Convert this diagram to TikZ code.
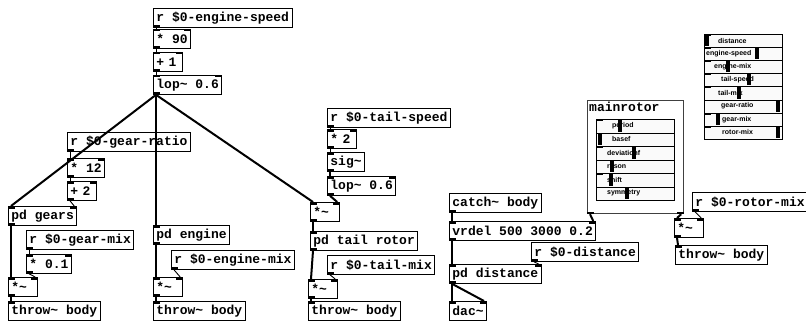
\documentclass[tikz,border=0pt]{standalone}
\usepackage{fontspec}
\newfontfamily\pdmono{Liberation Mono}
\newfontfamily\pdsans{Liberation Sans}
\newcommand{\pdfont}{\pdmono\bfseries\fontsize{13}{15}\selectfont}
\newcommand{\lblfont}{\pdsans\bfseries\fontsize{7}{8}\selectfont}
\newcommand{\tld}{\textasciitilde}
% inlets and outlets of a box
\newcommand{\inL}[1]{\fill (#1.north west) rectangle ++(7,2.5);}
\newcommand{\inR}[1]{\fill (#1.north east) rectangle ++(-7,2.5);}
\newcommand{\outL}[1]{\fill (#1.south west) rectangle ++(7,-2.5);}
\newcommand{\outR}[1]{\fill (#1.south east) rectangle ++(-7,-2.5);}

\begin{document}
\begin{tikzpicture}[x=1pt, y=-1pt,
  obj/.style={draw, line width=0.8pt, anchor=north west, minimum height=19pt,
              inner xsep=3pt, inner ysep=0pt, font=\pdfont, align=left},
  short/.style={text width=23.4pt},
  gop/.style={draw=black!75, line width=1.2pt, anchor=north west,
              minimum width=96pt, minimum height=113pt, inner sep=0pt},
  slider/.style={draw, line width=0.7pt, fill=gray!4, anchor=north west,
                 minimum width=78pt, inner sep=0pt},
  lbl/.style={anchor=west, inner sep=0pt, font=\lblfont},
  knob/.style={line width=3.2pt},
  ctl/.style={line width=0.9pt},
  sig/.style={line width=2pt}
]
\useasboundingbox (0,0) rectangle (806,321);
\fill[white] (0,0) rectangle (806,321);

% engine chain
\node[obj] (espeed) at (153,8) {r \$0-engine-speed};
\node[obj] (emul90) at (153,29) {* 90};
\node[obj, short] (eadd) at (153,52) {+ 1};
\node[obj] (elop) at (153,75) {lop\tld{} 0.6};
\node[obj] (engine) at (153,225) {pd engine};
\node[obj] (emix) at (171,250) {r \$0-engine-mix};
\node[obj, short] (evca) at (153,277) {*\tld};
\node[obj] (ethrow) at (153,301) {throw\tld{} body};

% gears
\node[obj] (gratio) at (67,132) {r \$0-gear-ratio};
\node[obj] (gmul12) at (67,158) {* 12};
\node[obj, short] (gadd) at (67,181) {+ 2};
\node[obj] (gears) at (8,206) {pd gears};
\node[obj] (gmix) at (26,230) {r \$0-gear-mix};
\node[obj] (gmul01) at (26,254) {* 0.1};
\node[obj, short] (gvca) at (8,277) {*\tld};
\node[obj] (gthrow) at (8,301) {throw\tld{} body};

% tail rotor
\node[obj] (tspeed) at (327,108) {r \$0-tail-speed};
\node[obj, short] (tmul2) at (327,129) {* 2};
\node[obj] (tsig) at (327,152) {sig\tld};
\node[obj] (tlop) at (327,176) {lop\tld{} 0.6};
\node[obj, short] (tmod) at (310,202) {*\tld};
\node[obj] (tail) at (310,231) {pd tail rotor};
\node[obj] (tmix) at (327,255) {r \$0-tail-mix};
\node[obj, short] (tvca) at (308,279) {*\tld};
\node[obj] (tthrow) at (308,301) {throw\tld{} body};

% output
\node[obj] (catch) at (449,193) {catch\tld{} body};
\node[obj] (vrdel) at (449,221) {vrdel 500 3000 0.2};
\node[obj] (dist) at (531,242) {r \$0-distance};
\node[obj] (pdist) at (449,264) {pd distance};
\node[obj] (dac) at (449,301) {dac\tld};

% main rotor
\node[gop] (rotor) at (587,100) {};
\node[anchor=north west, font=\pdfont, inner sep=2pt] (rtitle) at (rotor.north west) {mainrotor};
\node[obj] (rmix) at (692,192) {r \$0-rotor-mix};
\node[obj, short] (rvca) at (674,218) {*\tld};
\node[obj] (rthrow) at (675,245) {throw\tld{} body};

% sliders inside mainrotor
\foreach \lab/\lx/\kx [count=\i from 0] in {period/612/620, basef/612/600,
    deviationf/607/634, reson/607/612, shift/607/611, symmetry/607/627} {
  \pgfmathsetmacro\ty{119+13.5*\i}
  \node[slider, minimum height=13.5pt] (ms\i) at (596,\ty) {};
  \node[lbl] (ml\i) at (\lx,\ty+6.75) {\lab};
  \draw[knob] (\kx,\ty+1) -- (\kx,\ty+12.5);
  \fill (ms\i.north west) rectangle ++(7,1.8);
}

% sliders top right
\foreach \lab/\lx/\kx [count=\i from 0] in {distance/718/707,
    engine-speed/706/757, engine-mix/714/728, tail-speed/721/749,
    tail-mix/718/739, gear-ratio/721/778, gear-mix/722/718, rotor-mix/722/778} {
  \pgfmathsetmacro\ty{34+13.125*\i}
  \node[slider, minimum height=13.125pt] (ts\i) at (704,\ty) {};
  \node[lbl] (tl\i) at (\lx,\ty+6.56) {\lab};
  \draw[knob] (\kx,\ty+1) -- (\kx,\ty+12.1);
  \fill (ts\i.north west) rectangle ++(7,1.8);
}

% iolets
\foreach \n in {emul90, eadd, elop, gmul12, gadd, gears, gmul01, gvca, evca,
    tmul2, tlop, tmod, tvca, vrdel, pdist, rvca} {\inL{\n}\inR{\n}\outL{\n}}
\foreach \n in {engine, tsig, tail} {\inL{\n}\outL{\n}}
\foreach \n in {espeed, gratio, gmix, emix, tspeed, tmix, catch, dist, rmix} {\outL{\n}}
\foreach \n in {gthrow, ethrow, tthrow, rthrow} {\inL{\n}}
\inL{dac}\inR{dac}
\outL{rotor}\outR{rotor}

% connections
\draw[ctl] ([xshift=3pt]espeed.south west) -- ([xshift=3pt]emul90.north west);
\draw[ctl] ([xshift=3pt]emul90.south west) -- ([xshift=3pt]eadd.north west);
\draw[ctl] ([xshift=3pt]eadd.south west) -- ([xshift=3pt]elop.north west);
\draw[sig] ([xshift=3pt]elop.south west) -- ([xshift=3pt]gears.north west);
\draw[sig] ([xshift=3pt]elop.south west) -- ([xshift=3pt]engine.north west);
\draw[sig] ([xshift=3pt]elop.south west) -- ([xshift=3pt]tmod.north west);
\draw[sig] ([xshift=3pt]engine.south west) -- ([xshift=3pt]evca.north west);
\draw[ctl] ([xshift=3pt]emix.south west) -- ([xshift=-3pt]evca.north east);
\draw[sig] ([xshift=3pt]evca.south west) -- ([xshift=3pt]ethrow.north west);

\draw[ctl] ([xshift=3pt]gratio.south west) -- ([xshift=3pt]gmul12.north west);
\draw[ctl] ([xshift=3pt]gmul12.south west) -- ([xshift=3pt]gadd.north west);
\draw[ctl] ([xshift=3pt]gadd.south west) -- ([xshift=-3pt]gears.north east);
\draw[sig] ([xshift=3pt]gears.south west) -- ([xshift=3pt]gvca.north west);
\draw[ctl] ([xshift=3pt]gmix.south west) -- ([xshift=3pt]gmul01.north west);
\draw[ctl] ([xshift=3pt]gmul01.south west) -- ([xshift=-3pt]gvca.north east);
\draw[sig] ([xshift=3pt]gvca.south west) -- ([xshift=3pt]gthrow.north west);

\draw[ctl] ([xshift=3pt]tspeed.south west) -- ([xshift=3pt]tmul2.north west);
\draw[ctl] ([xshift=3pt]tmul2.south west) -- ([xshift=3pt]tsig.north west);
\draw[sig] ([xshift=3pt]tsig.south west) -- ([xshift=3pt]tlop.north west);
\draw[sig] ([xshift=3pt]tlop.south west) -- ([xshift=-3pt]tmod.north east);
\draw[sig] ([xshift=3pt]tmod.south west) -- ([xshift=3pt]tail.north west);
\draw[sig] ([xshift=3pt]tail.south west) -- ([xshift=3pt]tvca.north west);
\draw[ctl] ([xshift=3pt]tmix.south west) -- ([xshift=-3pt]tvca.north east);
\draw[sig] ([xshift=3pt]tvca.south west) -- ([xshift=3pt]tthrow.north west);

\draw[sig] ([xshift=3pt]catch.south west) -- ([xshift=3pt]vrdel.north west);
\draw[sig] ([xshift=3pt]rotor.south west) -- ([xshift=-3pt]vrdel.north east);
\draw[sig] ([xshift=3pt]vrdel.south west) -- ([xshift=3pt]pdist.north west);
\draw[ctl] ([xshift=3pt]dist.south west) -- ([xshift=-3pt]pdist.north east);
\draw[sig] ([xshift=3pt]pdist.south west) -- ([xshift=3pt]dac.north west);
\draw[sig] ([xshift=3pt]pdist.south west) -- ([xshift=-3pt]dac.north east);

\draw[sig] ([xshift=-3pt]rotor.south east) -- ([xshift=3pt]rvca.north west);
\draw[ctl] ([xshift=3pt]rmix.south west) -- ([xshift=-3pt]rvca.north east);
\draw[sig] ([xshift=3pt]rvca.south west) -- ([xshift=3pt]rthrow.north west);
\end{tikzpicture}
\end{document}
